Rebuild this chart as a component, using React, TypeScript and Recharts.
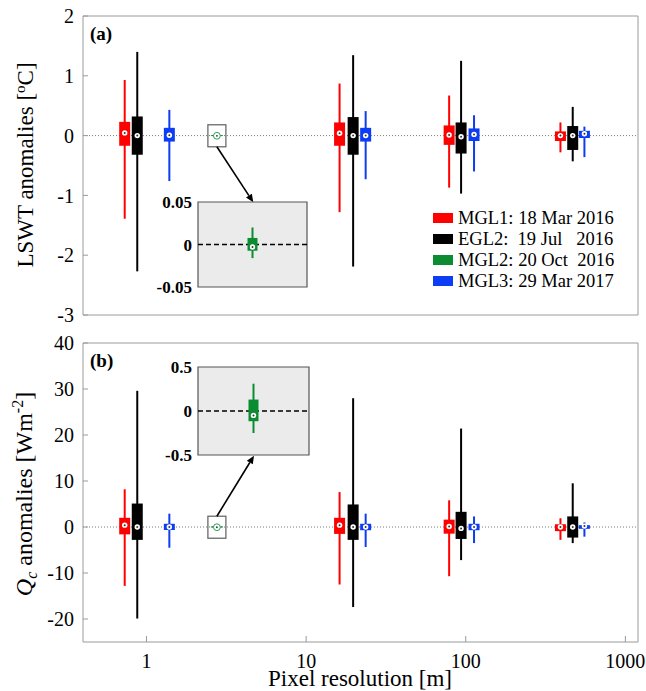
import React from 'react';
import { ComposedChart, Scatter, ErrorBar, XAxis, YAxis, ReferenceLine, ReferenceArea } from 'recharts';

// ---------- series meta ----------
const seriesNames = ['MGL1: 18 Mar 2016', 'EGL2:  19 Jul   2016', 'MGL2: 20 Oct  2016', 'MGL3: 29 Mar 2017'];
const seriesColors = ['#ff0000', '#000000', '#0b8c31', '#0c3cf4'];

// ---------- x positions (pixel resolution, m) ----------
const redX = [0.73, 16.2, 78.7, 392];
const blackX = [0.875, 19.7, 93.5, 468];
const greenX = [2.76];
const blueX = [1.39, 23.6, 112.7, 554];

// ---------- axis ticks ----------
const xMajorTicks = [1, 10, 100, 1000];
const xMinorTicks = [0.5, 0.6, 0.7, 0.8, 0.9, 2, 3, 4, 5, 6, 7, 8, 9, 20, 30, 40, 50, 60, 70, 80, 90, 200, 300, 400, 500, 600, 700, 800, 900];
const yTicksA = [-3, -2, -1, 0, 1, 2];
const yTicksB = [-20, -10, 0, 10, 20, 30, 40];
const insetTicksA = [-0.05, 0, 0.05];
const insetTicksB = [-0.5, 0, 0.5];

// ---------- panel (a): LSWT anomalies [°C] ----------
const aRedLo = [-1.39, -1.28, -0.87, -0.28];
const aRedQ1 = [-0.17, -0.17, -0.155, -0.09];
const aRedMed = [0.045, 0.04, 0.01, 0];
const aRedQ3 = [0.23, 0.22, 0.17, 0.07];
const aRedHi = [0.93, 0.87, 0.67, 0.22];

const aBlackLo = [-2.27, -2.19, -0.97, -0.43];
const aBlackQ1 = [-0.32, -0.32, -0.3, -0.24];
const aBlackMed = [0, 0, -0.02, 0];
const aBlackQ3 = [0.32, 0.31, 0.22, 0.16];
const aBlackHi = [1.4, 1.345, 1.25, 0.48];

const aGreenLo = [-0.016];
const aGreenQ1 = [-0.0073];
const aGreenMed = [-0.003];
const aGreenQ3 = [0.0077];
const aGreenHi = [0.02];

const aBlueLo = [-0.76, -0.73, -0.6, -0.36];
const aBlueQ1 = [-0.1, -0.1, -0.09, -0.04];
const aBlueMed = [0.005, 0, 0.02, 0.03];
const aBlueQ3 = [0.13, 0.13, 0.12, 0.08];
const aBlueHi = [0.43, 0.41, 0.34, 0.15];

// ---------- panel (b): Qc anomalies [W m-2] ----------
const bRedLo = [-12.8, -12.5, -10.7, -2.8];
const bRedQ1 = [-1.6, -1.5, -1.45, -0.9];
const bRedMed = [0.4, 0.4, 0.1, 0];
const bRedQ3 = [2.0, 2.0, 1.6, 0.6];
const bRedHi = [8.2, 7.6, 5.8, 1.9];

const bBlackLo = [-19.9, -17.4, -7.2, -3.5];
const bBlackQ1 = [-2.8, -2.8, -2.6, -2.3];
const bBlackMed = [0, 0, -0.3, 0];
const bBlackQ3 = [5.1, 4.9, 3.3, 2.3];
const bBlackHi = [29.6, 28, 21.4, 9.5];

const bGreenLo = [-0.25];
const bGreenQ1 = [-0.116];
const bGreenMed = [-0.05];
const bGreenQ3 = [0.13];
const bGreenHi = [0.31];

const bBlueLo = [-4.5, -4.35, -3.5, -2.1];
const bBlueQ1 = [-0.65, -0.7, -0.7, -0.4];
const bBlueMed = [0, 0, 0, 0.2];
const bBlueQ3 = [0.7, 0.7, 0.7, 0.4];
const bBlueHi = [2.9, 2.9, 2.3, 1.0];

type Row = { x: number; y: number; wh: [number, number]; bx: [number, number] };

function makeRows(xs: number[], lo: number[], q1: number[], med: number[], q3: number[], hi: number[]): Row[] {
  return xs.map((x, i) => ({
    x,
    y: med[i],
    wh: [med[i] - lo[i], hi[i] - med[i]],
    bx: [med[i] - q1[i], q3[i] - med[i]],
  }));
}

const FONT = '"Liberation Serif", "Times New Roman", serif';
const AXIS_GRAY = '#9a9a9a';

const MedianDot = (props: any) => {
  const { cx, cy } = props;
  if (cx == null || cy == null) return null;
  return (
    <g>
      <circle cx={cx} cy={cy} r={2.7} fill="#ffffff" />
      <circle cx={cx} cy={cy} r={1} fill="#333333" />
    </g>
  );
};

function arrowPath(x1: number, y1: number, x2: number, y2: number) {
  const dx = x2 - x1;
  const dy = y2 - y1;
  const len = Math.sqrt(dx * dx + dy * dy);
  const ux = dx / len;
  const uy = dy / len;
  const hl = 8;
  const hw = 3.5;
  const bx = x2 - ux * hl;
  const by = y2 - uy * hl;
  return {
    shaft: { x1, y1, x2: bx, y2: by },
    head: `${x2},${y2} ${bx - uy * hw},${by + ux * hw} ${bx + uy * hw},${by - ux * hw}`,
  };
}

// zoom marker for the tiny green box: small frame + arrow to the inset
const makeZoomMarker = (targetX: number, targetY: number, fromBottom: boolean) => (props: any) => {
  const { cx, cy } = props;
  if (cx == null || cy == null) return null;
  const sx = cx;
  const sy = fromBottom ? cy + 11 : cy - 11;
  const a = arrowPath(sx, sy, targetX, targetY);
  return (
    <g>
      <rect x={cx - 9} y={cy - 11} width={18} height={22} fill="none" stroke="#6a6a6a" strokeWidth={1.3} />
      <circle cx={cx} cy={cy} r={3.4} fill="#ffffff" stroke="#2e9e55" strokeWidth={1} />
      <circle cx={cx} cy={cy} r={0.9} fill="#333333" />
      <line {...a.shaft} stroke="#000" strokeWidth={1.6} />
      <polygon points={a.head} fill="#000" />
    </g>
  );
};

const BoxSeries = (rows: Row[], color: string, boxW: number, whW: number, shape: any, key: string) => (
  <Scatter
    key={key}
    data={rows}
    dataKey="y"
    xAxisId="b"
    yAxisId="l"
    shape={shape}
    isAnimationActive={false}
  >
    <ErrorBar dataKey="wh" direction="y" width={0} stroke={color} strokeWidth={whW} />
    <ErrorBar dataKey="bx" direction="y" width={0} stroke={color} strokeWidth={boxW} />
  </Scatter>
);

type PanelProps = {
  width: number;
  height: number;
  margin: { top: number; right: number; bottom: number; left: number };
  yDomain: [number, number];
  yTicks: number[];
  showXLabels: boolean;
  series: { rows: Row[]; color: string; shape: any; key: string; boxW: number }[];
};

// each x axis is 1px tall (zero-size axes are not drawn): two bottom + two top axes
const Panel = ({ width, height, margin, yDomain, yTicks, showXLabels, series }: PanelProps) => (
  <ComposedChart width={width} height={height} margin={margin}>
    <XAxis
      xAxisId="b"
      dataKey="x"
      type="number"
      scale="log"
      domain={[0.4, 1200]}
      allowDataOverflow
      orientation="bottom"
      height={1}
      ticks={xMajorTicks}
      interval={0}
      tickSize={-6}
      tickMargin={18}
      stroke={AXIS_GRAY}
      tickLine={{ stroke: AXIS_GRAY }}
      axisLine={{ stroke: AXIS_GRAY }}
      tick={showXLabels ? { fontSize: 20, fill: '#000', fontFamily: FONT } : false}
      tickFormatter={(v: number) => String(v)}
    />
    <XAxis
      xAxisId="bm"
      type="number"
      scale="log"
      domain={[0.4, 1200]}
      allowDataOverflow
      orientation="bottom"
      height={1}
      ticks={xMinorTicks}
      interval={0}
      tickSize={-4.5}
      stroke={AXIS_GRAY}
      tickLine={{ stroke: AXIS_GRAY }}
      axisLine={false}
      tick={false}
    />
    <XAxis
      xAxisId="t"
      type="number"
      scale="log"
      domain={[0.4, 1200]}
      allowDataOverflow
      orientation="top"
      height={1}
      ticks={xMajorTicks}
      interval={0}
      tickSize={-6}
      stroke={AXIS_GRAY}
      tickLine={{ stroke: AXIS_GRAY }}
      axisLine={{ stroke: AXIS_GRAY }}
      tick={false}
    />
    <XAxis
      xAxisId="tm"
      type="number"
      scale="log"
      domain={[0.4, 1200]}
      allowDataOverflow
      orientation="top"
      height={1}
      ticks={xMinorTicks}
      interval={0}
      tickSize={-4.5}
      stroke={AXIS_GRAY}
      tickLine={{ stroke: AXIS_GRAY }}
      axisLine={false}
      tick={false}
    />
    <YAxis
      yAxisId="l"
      dataKey="y"
      type="number"
      domain={yDomain}
      allowDataOverflow
      ticks={yTicks}
      interval={0}
      width={83}
      tickSize={-5}
      tickMargin={14}
      stroke={AXIS_GRAY}
      tickLine={{ stroke: AXIS_GRAY }}
      axisLine={{ stroke: AXIS_GRAY }}
      tick={{ fontSize: 20, fill: '#000', fontFamily: FONT }}
    />
    <YAxis
      yAxisId="r"
      orientation="right"
      type="number"
      domain={yDomain}
      allowDataOverflow
      ticks={yTicks}
      interval={0}
      width={1}
      tickSize={-5}
      stroke={AXIS_GRAY}
      tickLine={{ stroke: AXIS_GRAY }}
      axisLine={{ stroke: AXIS_GRAY }}
      tick={false}
    />
    <ReferenceLine xAxisId="b" yAxisId="l" y={0} stroke="#7a7a7a" strokeWidth={1} strokeDasharray="1 2" />
    {series.map((s) => BoxSeries(s.rows, s.color, s.boxW, 2, s.shape, s.key))}
  </ComposedChart>
);

type InsetProps = {
  width: number;
  height: number;
  domain: [number, number];
  ticks: number[];
  rows: Row[];
};

const Inset = ({ width, height, domain, ticks, rows }: InsetProps) => (
  <ComposedChart width={width} height={height} margin={{ top: 10, right: 5, bottom: 11, left: 0 }}>
    <XAxis xAxisId="i" dataKey="x" type="number" domain={[0, 2]} hide />
    <YAxis
      yAxisId="i"
      dataKey="y"
      type="number"
      domain={domain}
      allowDataOverflow
      ticks={ticks}
      interval={0}
      width={58}
      tickSize={0}
      tickLine={false}
      axisLine={false}
      tickMargin={6}
      tick={{ fontSize: 17, fontWeight: 'bold', fill: '#000', fontFamily: FONT }}
      tickFormatter={(v: number) => String(v)}
    />
    <ReferenceArea xAxisId="i" yAxisId="i" y1={domain[0]} y2={domain[1]} fill="#ebebeb" fillOpacity={1} stroke="#555555" strokeWidth={1.2} />
    <ReferenceLine xAxisId="i" yAxisId="i" y={0} stroke="#000" strokeWidth={1.6} strokeDasharray="5 3" />
    <Scatter data={rows} dataKey="y" xAxisId="i" yAxisId="i" shape={MedianDot} isAnimationActive={false}>
      <ErrorBar dataKey="wh" direction="y" width={0} stroke={seriesColors[2]} strokeWidth={2} />
      <ErrorBar dataKey="bx" direction="y" width={0} stroke={seriesColors[2]} strokeWidth={10} />
    </Scatter>
  </ComposedChart>
);

const insetX = [1];

export default function App() {
  const aRows = {
    red: makeRows(redX, aRedLo, aRedQ1, aRedMed, aRedQ3, aRedHi),
    black: makeRows(blackX, aBlackLo, aBlackQ1, aBlackMed, aBlackQ3, aBlackHi),
    green: makeRows(greenX, aGreenLo, aGreenQ1, aGreenMed, aGreenQ3, aGreenHi),
    blue: makeRows(blueX, aBlueLo, aBlueQ1, aBlueMed, aBlueQ3, aBlueHi),
  };
  const bRows = {
    red: makeRows(redX, bRedLo, bRedQ1, bRedMed, bRedQ3, bRedHi),
    black: makeRows(blackX, bBlackLo, bBlackQ1, bBlackMed, bBlackQ3, bBlackHi),
    green: makeRows(greenX, bGreenLo, bGreenQ1, bGreenMed, bGreenQ3, bGreenHi),
    blue: makeRows(blueX, bBlueLo, bBlueQ1, bBlueMed, bBlueQ3, bBlueHi),
  };
  const aInsetRows = makeRows(insetX, aGreenLo, aGreenQ1, aGreenMed, aGreenQ3, aGreenHi);
  const bInsetRows = makeRows(insetX, bGreenLo, bGreenQ1, bGreenMed, bGreenQ3, bGreenHi);

  const aSeries = [
    { rows: aRows.red, color: seriesColors[0], shape: MedianDot, key: 'red', boxW: 11 },
    { rows: aRows.black, color: seriesColors[1], shape: MedianDot, key: 'black', boxW: 11 },
    { rows: aRows.green, color: seriesColors[2], shape: makeZoomMarker(253.3, 202.3, true), key: 'green', boxW: 12 },
    { rows: aRows.blue, color: seriesColors[3], shape: MedianDot, key: 'blue', boxW: 11 },
  ];
  const bSeries = [
    { rows: bRows.red, color: seriesColors[0], shape: MedianDot, key: 'red', boxW: 11 },
    { rows: bRows.black, color: seriesColors[1], shape: MedianDot, key: 'black', boxW: 11 },
    { rows: bRows.green, color: seriesColors[2], shape: makeZoomMarker(254, 125.7, false), key: 'green', boxW: 12 },
    { rows: bRows.blue, color: seriesColors[3], shape: MedianDot, key: 'blue', boxW: 11 },
  ];

  return (
    <div style={{ position: 'absolute', left: 0, top: 0, width: 646, height: 691, background: '#fff', fontFamily: FONT, overflow: 'hidden' }}>
      <div style={{ position: 'absolute', left: 0, top: 0 }}>
        <Panel
          width={646}
          height={330}
          margin={{ top: 14, right: 7, bottom: 13, left: 0 }}
          yDomain={[-3, 2]}
          yTicks={yTicksA}
          showXLabels={false}
          series={aSeries}
        />
      </div>
      <div style={{ position: 'absolute', left: 0, top: 330 }}>
        <Panel
          width={646}
          height={361}
          margin={{ top: 11, right: 7, bottom: 47, left: 0 }}
          yDomain={[-25, 40]}
          yTicks={yTicksB}
          showXLabels={true}
          series={bSeries}
        />
      </div>

      {/* insets */}
      <div style={{ position: 'absolute', left: 140, top: 192 }}>
        <Inset width={172} height={106} domain={[-0.05, 0.05]} ticks={insetTicksA} rows={aInsetRows} />
      </div>
      <div style={{ position: 'absolute', left: 140, top: 357 }}>
        <Inset width={174} height={109} domain={[-0.5, 0.5]} ticks={insetTicksB} rows={bInsetRows} />
      </div>

      {/* panel labels */}
      <div style={{ position: 'absolute', left: 90, top: 24, fontSize: 19, fontWeight: 'bold', lineHeight: 1 }}>(a)</div>
      <div style={{ position: 'absolute', left: 90, top: 351, fontSize: 19, fontWeight: 'bold', lineHeight: 1 }}>(b)</div>

      {/* axis titles */}
      <div style={{ position: 'absolute', left: 25, top: 165, transform: 'translate(-50%, -50%) rotate(-90deg)', whiteSpace: 'nowrap', fontSize: 23, lineHeight: 1 }}>
        LSWT anomalies [<sup style={{ fontSize: 15 }}>o</sup>C]
      </div>
      <div style={{ position: 'absolute', left: 25, top: 494, transform: 'translate(-50%, -50%) rotate(-90deg)', whiteSpace: 'nowrap', fontSize: 24, lineHeight: 1 }}>
        <i>Q</i><sub style={{ fontSize: 16, fontStyle: 'italic' }}>c</sub> anomalies [Wm<sup style={{ fontSize: 16 }}>-2</sup>]
      </div>
      <div style={{ position: 'absolute', left: 360, top: 678, transform: 'translate(-50%, -50%)', whiteSpace: 'nowrap', fontSize: 23, lineHeight: 1 }}>
        Pixel resolution [m]
      </div>

      {/* legend */}
      <div style={{ position: 'absolute', left: 433, top: 207.5, fontSize: 18.5, lineHeight: 1 }}>
        {seriesNames.map((n, i) => (
          <div key={n} style={{ display: 'flex', alignItems: 'center', height: 21 }}>
            <span style={{ display: 'inline-block', width: 20, height: 10, background: seriesColors[i], marginRight: 5 }} />
            <span style={{ whiteSpace: 'pre' }}>{n}</span>
          </div>
        ))}
      </div>
    </div>
  );
}
